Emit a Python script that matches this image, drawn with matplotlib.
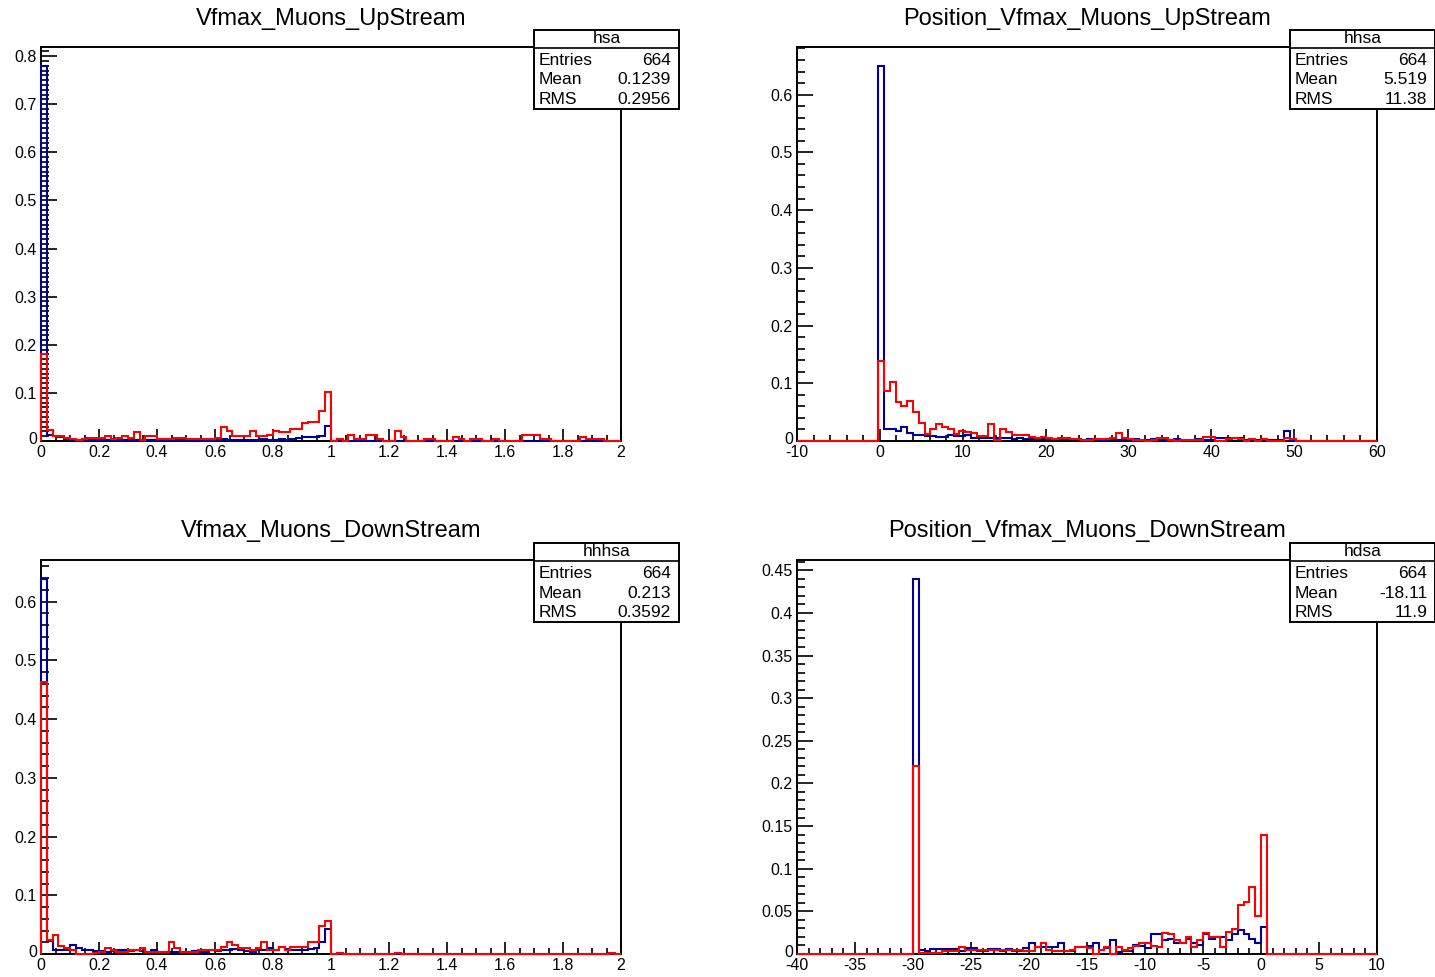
import numpy as np
import matplotlib
matplotlib.use("Agg")
import matplotlib.pyplot as plt
import matplotlib.transforms as mtransforms
from matplotlib.ticker import MultipleLocator, FixedLocator
from matplotlib.lines import Line2D
from matplotlib.patches import Rectangle

plt.rcParams['font.family'] = ['Liberation Sans', 'DejaVu Sans']

# ---------------- data ----------------
titles = ["Vfmax_Muons_UpStream", "Position_Vfmax_Muons_UpStream",
          "Vfmax_Muons_DownStream", "Position_Vfmax_Muons_DownStream"]
stat_names = ["hsa", "hhsa", "hhhsa", "hdsa"]
stat_entries = ["664", "664", "664", "664"]
stat_means = ["0.1239", "5.519", "0.213", "-18.11"]
stat_rms = ["0.2956", "11.38", "0.3592", "11.9"]

ranges = [(0.0, 2.0), (-10.0, 60.0), (0.0, 2.0), (-40.0, 10.0)]
nbins = 100

blue_tl = [0.78, 0.012, 0.010, 0.008, 0.005, 0.003, 0.003, 0.002, 0.003, 0.002,
           0.003, 0.002, 0.002, 0.003, 0.002, 0.002, 0.003, 0.002, 0.002, 0.003,
           0.002, 0.002, 0.003, 0.002, 0.003, 0.002, 0.002, 0.003, 0.002, 0.003,
           0.003, 0.004, 0.003, 0.002, 0.003, 0.003, 0.002, 0.003, 0.004, 0.003,
           0.003, 0.004, 0.003, 0.005, 0.006, 0.008, 0.008, 0.009, 0.010, 0.031,
           0.0, 0.0, 0.0, 0.0, 0.0, 0.0015, 0.0, 0.0, 0.0, 0.0,
           0.0, 0.0, 0.0, 0.0, 0.0, 0.0, 0.0, 0.0, 0.0, 0.0,
           0.0, 0.0, 0.0, 0.0, 0.0, 0.0, 0.0, 0.0, 0.0, 0.0,
           0.0, 0.0, 0.0, 0.0, 0.0, 0.0, 0.0, 0.0, 0.0, 0.0,
           0.0, 0.0, 0.0, 0.0, 0.0, 0.0, 0.0, 0.0, 0.0, 0.0]
red_tl = [0.18, 0.023, 0.011, 0.011, 0.007, 0.004, 0.0015, 0.004, 0.007, 0.007,
          0.007, 0.011, 0.004, 0.007, 0.011, 0.007, 0.018, 0.003, 0.011, 0.011,
          0.004, 0.004, 0.004, 0.007, 0.007, 0.004, 0.004, 0.004, 0.004, 0.004,
          0.007, 0.030, 0.020, 0.011, 0.011, 0.011, 0.020, 0.011, 0.011, 0.013,
          0.020, 0.019, 0.019, 0.025, 0.025, 0.037, 0.039, 0.039, 0.063, 0.102,
          0.0, 0.005, 0.0, 0.012, 0.005, 0.005, 0.012, 0.012, 0.005, 0.0,
          0.0, 0.020, 0.008, 0.0, 0.0, 0.0, 0.0035, 0.0035, 0.0, 0.0,
          0.0, 0.008, 0.0035, 0.0, 0.0035, 0.0035, 0.0, 0.0, 0.0035, 0.0,
          0.0, 0.0, 0.0, 0.012, 0.012, 0.012, 0.0035, 0.0035, 0.0, 0.0,
          0.0, 0.0, 0.0, 0.008, 0.0035, 0.0035, 0.0035, 0.0, 0.0, 0.0]

blue_tr = [0.0] * 14 + [
    0.65, 0.020, 0.020, 0.018, 0.024, 0.013, 0.011, 0.010, 0.008, 0.008,
    0.007, 0.007, 0.010, 0.008, 0.008, 0.010, 0.006, 0.006, 0.006, 0.005,
    0.006, 0.005, 0.005, 0.004, 0.005, 0.004, 0.004, 0.003, 0.004, 0.003,
    0.003, 0.004, 0.003, 0.003, 0.003, 0.002, 0.003, 0.003, 0.002, 0.002,
    0.003, 0.002, 0.003, 0.002, 0.003, 0.002, 0.002, 0.003, 0.002, 0.002,
    0.002, 0.003, 0.002, 0.002, 0.002, 0.003, 0.002, 0.002, 0.006, 0.006,
    0.006, 0.006, 0.006, 0.002, 0.002, 0.002, 0.003, 0.002, 0.002, 0.002,
    0.018] + [0.0] * 15
red_tr = [0.0] * 14 + [
    0.139, 0.086, 0.102, 0.067, 0.061, 0.069, 0.051, 0.031, 0.012, 0.020,
    0.029, 0.025, 0.020, 0.012, 0.018, 0.015, 0.014, 0.009, 0.009, 0.029,
    0.002, 0.020, 0.015, 0.010, 0.010, 0.010, 0.0075, 0.006, 0.0075, 0.006,
    0.0035, 0.006, 0.006, 0.0035, 0.0035, 0.002, 0.002, 0.0035, 0.0035, 0.0035,
    0.006, 0.013, 0.005, 0.003, 0.002, 0.002, 0.0, 0.002, 0.006, 0.006,
    0.002, 0.0, 0.002, 0.002, 0.002, 0.002, 0.0075, 0.0075, 0.0, 0.0,
    0.003, 0.006, 0.003, 0.0, 0.003, 0.0, 0.003, 0.0, 0.0, 0.0,
    0.005, 0.003] + [0.0] * 14

blue_bl = [0.639, 0.022, 0.007, 0.007, 0.007, 0.015, 0.010, 0.006, 0.006, 0.005,
           0.005, 0.004, 0.005, 0.006, 0.007, 0.005, 0.006, 0.005, 0.004, 0.007,
           0.004, 0.004, 0.004, 0.003, 0.004, 0.004, 0.005, 0.004, 0.004, 0.006,
           0.005, 0.007, 0.006, 0.009, 0.006, 0.005, 0.004, 0.006, 0.006, 0.010,
           0.007, 0.012, 0.008, 0.007, 0.006, 0.006, 0.008, 0.010, 0.021, 0.042,
           0.0, 0.0, 0.0, 0.0, 0.0, 0.0, 0.0, 0.0, 0.0, 0.0,
           0.0, 0.0, 0.0, 0.0, 0.0, 0.0, 0.0, 0.0, 0.0, 0.0,
           0.0, 0.0, 0.0, 0.0, 0.0, 0.0, 0.0, 0.0, 0.0, 0.0,
           0.0, 0.0, 0.0, 0.0, 0.0, 0.0, 0.0, 0.0, 0.0, 0.0,
           0.0, 0.0, 0.0, 0.0, 0.0, 0.0, 0.0, 0.0, 0.0, 0.0]
red_bl = [0.463, 0.024, 0.032, 0.014, 0.010, 0.006, 0.0, 0.0, 0.0, 0.002,
          0.004, 0.011, 0.007, 0.004, 0.004, 0.007, 0.007, 0.010, 0.004, 0.004,
          0.004, 0.004, 0.020, 0.010, 0.004, 0.004, 0.004, 0.007, 0.007, 0.007,
          0.007, 0.012, 0.021, 0.016, 0.010, 0.010, 0.007, 0.010, 0.021, 0.007,
          0.007, 0.012, 0.007, 0.012, 0.012, 0.012, 0.021, 0.021, 0.047, 0.056,
          0.0, 0.002, 0.0, 0.0, 0.0, 0.0, 0.0, 0.0, 0.0, 0.0,
          0.0, 0.002, 0.0, 0.0, 0.0, 0.0, 0.0, 0.0, 0.0, 0.0,
          0.0, 0.0, 0.0, 0.0, 0.0, 0.0, 0.0, 0.0, 0.0, 0.0,
          0.0, 0.0, 0.0, 0.0, 0.0, 0.0, 0.0, 0.0, 0.0, 0.0,
          0.0, 0.0, 0.0, 0.0, 0.0, 0.0, 0.0, 0.0, 0.002, 0.0]

blue_br = [0.0] * 20 + [
    0.440, 0.005, 0.0035, 0.0055, 0.0055, 0.0055, 0.0055, 0.0055, 0.0035, 0.0065,
    0.0065, 0.0035, 0.0035, 0.0055, 0.0055, 0.0035, 0.0055, 0.0035, 0.0035, 0.0065,
    0.013, 0.008, 0.008, 0.008, 0.008, 0.013, 0.0035, 0.0035, 0.008, 0.008,
    0.009, 0.0125, 0.005, 0.0066, 0.016, 0.002, 0.004, 0.004, 0.0105, 0.009,
    0.0066, 0.023, 0.023, 0.016, 0.018, 0.0125, 0.0125, 0.018, 0.013, 0.0105,
    0.023, 0.018, 0.020, 0.020, 0.016, 0.024, 0.028, 0.024, 0.018, 0.013,
    0.032] + [0.0] * 19
red_br = [0.0] * 20 + [
    0.220, 0.0015, 0.0015, 0.0015, 0.0015, 0.0035, 0.0035, 0.0035, 0.008, 0.005,
    0.005, 0.005, 0.005, 0.005, 0.005, 0.005, 0.005, 0.005, 0.005, 0.0035,
    0.0035, 0.008, 0.0125, 0.005, 0.0035, 0.0035, 0.0035, 0.005, 0.008, 0.008,
    0.0066, 0.0, 0.005, 0.0086, 0.0, 0.0086, 0.005, 0.0066, 0.009, 0.013,
    0.0125, 0.009, 0.0086, 0.025, 0.024, 0.017, 0.013, 0.020, 0.008, 0.016,
    0.025, 0.020, 0.020, 0.0086, 0.026, 0.029, 0.057, 0.061, 0.078, 0.0445,
    0.139] + [0.0] * 19

blues = [blue_tl, blue_tr, blue_bl, blue_br]
reds = [red_tl, red_tr, red_bl, red_br]

x_major = [0.2, 10, 0.2, 5]
x_minor = [0.05, 2, 0.05, 1]
y_major = [0.1, 0.1, 0.1, 0.05]
y_minor = [0.01, 0.02, 0.02, 0.01]

# ---------------- layout ----------------
W, H = 1435, 977
fig = plt.figure(figsize=(W / 100, H / 100), dpi=100)
fig.patch.set_facecolor('white')

boxes = [(41, 47, 621, 441), (797, 47, 1377, 441),
         (41, 560, 621, 954), (797, 560, 1377, 954)]
sboxes = [(534, 30, 679, 109), (1290, 30, 1435, 109),
          (534, 543, 679, 622), (1290, 543, 1435, 622)]

BLUE = '#000099'
RED = '#ff0000'


def fx(x):
    return x / W


def fy(y):
    return 1 - y / H


def fmt(v, step):
    if abs(v) < 1e-9:
        return "0"
    if step >= 1:
        return f"{v:.0f}"
    return f"{v:.2f}".rstrip('0').rstrip('.')


for k in range(4):
    l, t, r, b = boxes[k]
    ax = fig.add_axes([fx(l), fy(b), fx(r) - fx(l), fy(t) - fy(b)])
    lo, hi = ranges[k]
    edges = np.linspace(lo, hi, nbins + 1)
    bv = np.array(blues[k])
    rv = np.array(reds[k])
    ymax = 1.05 * max(bv.max(), rv.max())
    ax.stairs(bv, edges, color=BLUE, lw=1.5, baseline=0, clip_on=False, zorder=5)
    ax.stairs(rv, edges, color=RED, lw=1.5, baseline=0, clip_on=False, zorder=6)
    ax.set_xlim(lo, hi)
    ax.set_ylim(0, ymax)
    for s in ['top', 'right', 'left', 'bottom']:
        ax.spines[s].set_linewidth(1.4)
        ax.spines[s].set_color('black')

    xm = np.arange(lo, hi + 1e-9, x_major[k])
    ax.xaxis.set_major_locator(FixedLocator(xm))
    ax.xaxis.set_minor_locator(MultipleLocator(x_minor[k]))
    ax.set_xticklabels([fmt(v, x_major[k]) for v in xm])
    ym = np.arange(0, ymax + 1e-9, y_major[k])
    ax.yaxis.set_major_locator(FixedLocator(ym))
    ax.yaxis.set_minor_locator(MultipleLocator(y_minor[k]))
    ax.set_yticklabels([fmt(v, y_major[k]) for v in ym])

    ax.tick_params(axis='x', which='major', direction='in', length=8.5, width=1.2,
                   labelsize=11.5, pad=3, top=False)
    ax.tick_params(axis='x', which='minor', direction='in', length=4.3, width=1.2, top=False)
    ax.tick_params(axis='y', which='major', direction='in', length=11.5, width=1.2,
                   labelsize=11.5, pad=3, right=False)
    ax.tick_params(axis='y', which='minor', direction='in', length=5.8, width=1.2, right=False)
    # nudge the y "0" label up a few pixels so it clears the first x label
    ylabs = ax.get_yticklabels()
    if ylabs:
        ylabs[0].set_transform(ylabs[0].get_transform() +
                               mtransforms.ScaledTranslation(0, 3 / 100, fig.dpi_scale_trans))

    # title
    fig.text(fx((l + r) / 2), fy(t - 28.5), titles[k], ha='center', va='center',
             fontsize=17)

    # stats box
    sl, st, sr, sb = sboxes[k]
    fig.patches.append(Rectangle((fx(sl), fy(sb)), fx(sr) - fx(sl), fy(st) - fy(sb),
                                 transform=fig.transFigure, facecolor='white',
                                 edgecolor='black', lw=1.4, zorder=10))
    fig.lines.append(Line2D([fx(sl), fx(sr)], [fy(st + 18), fy(st + 18)],
                            transform=fig.transFigure, color='black', lw=1.2, zorder=11))
    fig.text(fx((sl + sr) / 2), fy(st + 8.5), stat_names[k], ha='center', va='center',
             fontsize=12.5, zorder=12)
    rows = [("Entries", stat_entries[k]), ("Mean", stat_means[k]), ("RMS", stat_rms[k])]
    for j, (nm, val) in enumerate(rows):
        yy = fy(st + 30.5 + j * 19.5)
        fig.text(fx(sl + 5), yy, nm, ha='left', va='center', fontsize=12.5, zorder=12)
        fig.text(fx(sr - 8), yy, val, ha='right', va='center', fontsize=12.5, zorder=12)

fig.savefig("out.png", dpi=100, facecolor='white')
